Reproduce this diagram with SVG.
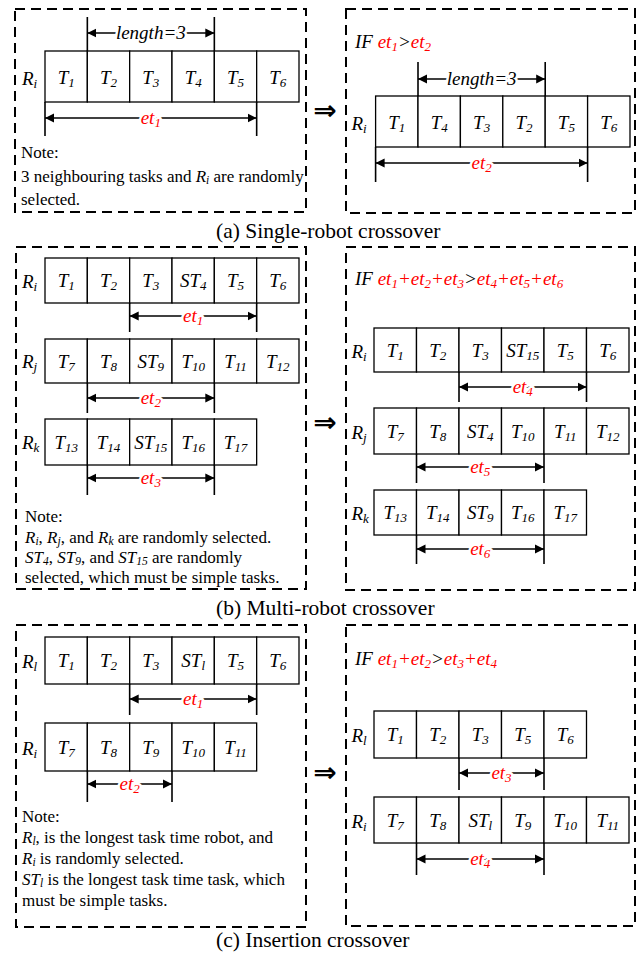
<svg xmlns="http://www.w3.org/2000/svg" width="642" height="954" viewBox="0 0 642 954">
<style>
.panel{fill:none;stroke:#000;stroke-width:2;stroke-dasharray:10 6}
.cell{fill:#fff;stroke:#000;stroke-width:1.3}
.t{font-family:'Liberation Serif','Times New Roman',Times,'DejaVu Serif',serif;font-style:italic;font-size:19px;text-anchor:middle;fill:#000}
.r{font-family:'Liberation Serif','Times New Roman',Times,'DejaVu Serif',serif;font-style:italic;font-size:19px;fill:#000}
.s{font-size:13px}
.tick{stroke:#000;stroke-width:1.6}
.dim{stroke:#000;stroke-width:1.5;marker-start:url(#ah);marker-end:url(#ah)}
.lab{font-family:'Liberation Serif','Times New Roman',Times,'DejaVu Serif',serif;font-style:italic;font-size:19px;text-anchor:middle;stroke:#fff;stroke-width:5;paint-order:stroke;stroke-linejoin:round}
.red{fill:#f00}
.blk{fill:#000}
.note{font-family:'Liberation Serif','Times New Roman',Times,'DejaVu Serif',serif;font-size:17px;fill:#000}
.i{font-style:italic}
.ns{font-size:11.5px}
.cap{font-family:'Liberation Serif','Times New Roman',Times,'DejaVu Serif',serif;font-size:21.5px;fill:#000}
.imp{font-family:'DejaVu Sans',sans-serif;font-weight:bold;font-size:28px;text-anchor:middle;fill:#000}
</style>
<defs>
<marker id="ah" viewBox="0 0 10 10" refX="10" refY="5" markerWidth="9" markerHeight="10" markerUnits="userSpaceOnUse" orient="auto-start-reverse">
<path d="M0,0 L10,5 L0,10 z" fill="#000"/>
</marker>
</defs>

<g id="panels">
<rect class="panel" x="15" y="9" width="291" height="203"/>
<rect class="panel" x="346" y="9" width="289" height="204"/>
<rect class="panel" x="16" y="247" width="290" height="342"/>
<rect class="panel" x="346" y="247" width="289" height="343"/>
<rect class="panel" x="16" y="625" width="290" height="302"/>
<rect class="panel" x="346" y="625" width="289" height="301"/>
</g>

<g id="a-left-Ri">
<text class="r" x="22" y="85" font-family="Liberation Serif">R<tspan class="s" dy="3">i</tspan></text>
<rect class="cell" x="45" y="51" width="42.33" height="51"/>
<rect class="cell" x="87.33" y="51" width="42.33" height="51"/>
<rect class="cell" x="129.67" y="51" width="42.33" height="51"/>
<rect class="cell" x="172" y="51" width="42.33" height="51"/>
<rect class="cell" x="214.33" y="51" width="42.33" height="51"/>
<rect class="cell" x="256.67" y="51" width="42.33" height="51"/>
<text class="t" x="66.2" y="83.5">T<tspan class="s" dy="3">1</tspan></text>
<text class="t" x="108.5" y="83.5">T<tspan class="s" dy="3">2</tspan></text>
<text class="t" x="150.8" y="83.5">T<tspan class="s" dy="3">3</tspan></text>
<text class="t" x="193.2" y="83.5">T<tspan class="s" dy="3">4</tspan></text>
<text class="t" x="235.5" y="83.5">T<tspan class="s" dy="3">5</tspan></text>
<text class="t" x="277.8" y="83.5">T<tspan class="s" dy="3">6</tspan></text>
</g>
<g id="a-left-note">
<text class="note" x="21" y="158">Note:</text>
<text class="note" x="21" y="181.5">3 neighbouring tasks and <tspan class="i">R</tspan><tspan class="i ns" dy="2">i</tspan><tspan dy="-2"> are randomly</tspan></text>
<text class="note" x="21" y="205">selected.</text>
</g>

<g id="a-right-if">
<text class="r" x="355" y="48">IF <tspan class="red">et</tspan><tspan class="red s" dy="3">1</tspan><tspan class="blk" dy="-3">&gt;</tspan><tspan class="red">et</tspan><tspan class="red s" dy="3">2</tspan></text>
</g>
<g id="a-right-Ri">
<text class="r" x="351.5" y="130">R<tspan class="s" dy="3">i</tspan></text>
<rect class="cell" x="375.6" y="96" width="42.4" height="51"/>
<rect class="cell" x="418" y="96" width="42.4" height="51"/>
<rect class="cell" x="460.4" y="96" width="42.4" height="51"/>
<rect class="cell" x="502.8" y="96" width="42.4" height="51"/>
<rect class="cell" x="545.2" y="96" width="42.4" height="51"/>
<rect class="cell" x="587.6" y="96" width="42.4" height="51"/>
<text class="t" x="396.8" y="128.5">T<tspan class="s" dy="3">1</tspan></text>
<text class="t" x="439.2" y="128.5">T<tspan class="s" dy="3">4</tspan></text>
<text class="t" x="481.6" y="128.5">T<tspan class="s" dy="3">3</tspan></text>
<text class="t" x="524" y="128.5">T<tspan class="s" dy="3">2</tspan></text>
<text class="t" x="566.4" y="128.5">T<tspan class="s" dy="3">5</tspan></text>
<text class="t" x="608.8" y="128.5">T<tspan class="s" dy="3">6</tspan></text>
</g>

<g id="b-left-Ri">
<text class="r" x="22" y="288">R<tspan class="s" dy="3">i</tspan></text>
<rect class="cell" x="45" y="258" width="42.33" height="45"/>
<rect class="cell" x="87.33" y="258" width="42.33" height="45"/>
<rect class="cell" x="129.67" y="258" width="42.33" height="45"/>
<rect class="cell" x="172" y="258" width="42.33" height="45"/>
<rect class="cell" x="214.33" y="258" width="42.33" height="45"/>
<rect class="cell" x="256.67" y="258" width="42.33" height="45"/>
<text class="t" x="66.2" y="287">T<tspan class="s" dy="3">1</tspan></text>
<text class="t" x="108.5" y="287">T<tspan class="s" dy="3">2</tspan></text>
<text class="t" x="150.8" y="287">T<tspan class="s" dy="3">3</tspan></text>
<text class="t" x="193.2" y="287">ST<tspan class="s" dy="3">4</tspan></text>
<text class="t" x="235.5" y="287">T<tspan class="s" dy="3">5</tspan></text>
<text class="t" x="277.8" y="287">T<tspan class="s" dy="3">6</tspan></text>
</g>
<g id="b-left-Rj">
<text class="r" x="22" y="368">R<tspan class="s" dy="3">j</tspan></text>
<rect class="cell" x="45" y="339" width="42.33" height="44"/>
<rect class="cell" x="87.33" y="339" width="42.33" height="44"/>
<rect class="cell" x="129.67" y="339" width="42.33" height="44"/>
<rect class="cell" x="172" y="339" width="42.33" height="44"/>
<rect class="cell" x="214.33" y="339" width="42.33" height="44"/>
<rect class="cell" x="256.67" y="339" width="42.33" height="44"/>
<text class="t" x="66.2" y="367.5">T<tspan class="s" dy="3">7</tspan></text>
<text class="t" x="108.5" y="367.5">T<tspan class="s" dy="3">8</tspan></text>
<text class="t" x="150.8" y="367.5">ST<tspan class="s" dy="3">9</tspan></text>
<text class="t" x="193.2" y="367.5">T<tspan class="s" dy="3">10</tspan></text>
<text class="t" x="235.5" y="367.5">T<tspan class="s" dy="3">11</tspan></text>
<text class="t" x="277.8" y="367.5">T<tspan class="s" dy="3">12</tspan></text>
</g>
<g id="b-left-Rk">
<text class="r" x="22" y="449">R<tspan class="s" dy="3">k</tspan></text>
<rect class="cell" x="45" y="419" width="42.33" height="46"/>
<rect class="cell" x="87.33" y="419" width="42.33" height="46"/>
<rect class="cell" x="129.67" y="419" width="42.33" height="46"/>
<rect class="cell" x="172" y="419" width="42.33" height="46"/>
<rect class="cell" x="214.33" y="419" width="42.33" height="46"/>
<text class="t" x="66.2" y="448.5">T<tspan class="s" dy="3">13</tspan></text>
<text class="t" x="108.5" y="448.5">T<tspan class="s" dy="3">14</tspan></text>
<text class="t" x="150.8" y="448.5">ST<tspan class="s" dy="3">15</tspan></text>
<text class="t" x="193.2" y="448.5">T<tspan class="s" dy="3">16</tspan></text>
<text class="t" x="235.5" y="448.5">T<tspan class="s" dy="3">17</tspan></text>
</g>
<g id="b-left-note">
<text class="note" x="25" y="522">Note:</text>
<text class="note" x="25" y="543"><tspan class="i">R</tspan><tspan class="i ns" dy="2">i</tspan><tspan dy="-2">, </tspan><tspan class="i">R</tspan><tspan class="i ns" dy="2">j</tspan><tspan dy="-2">, and </tspan><tspan class="i">R</tspan><tspan class="i ns" dy="2">k</tspan><tspan dy="-2"> are randomly selected.</tspan></text>
<text class="note" x="25" y="563"><tspan class="i">ST</tspan><tspan class="i ns" dy="2">4</tspan><tspan dy="-2">, </tspan><tspan class="i">ST</tspan><tspan class="i ns" dy="2">9</tspan><tspan dy="-2">, and </tspan><tspan class="i">ST</tspan><tspan class="i ns" dy="2">15</tspan><tspan dy="-2"> are randomly</tspan></text>
<text class="note" x="25" y="583">selected, which must be simple tasks.</text>
</g>

<g id="b-right-if">
<text class="r" x="355" y="285">IF <tspan class="red">et</tspan><tspan class="red s" dy="3">1</tspan><tspan class="red" dy="-3">+et</tspan><tspan class="red s" dy="3">2</tspan><tspan class="red" dy="-3">+et</tspan><tspan class="red s" dy="3">3</tspan><tspan class="blk" dy="-3">&gt;</tspan><tspan class="red">et</tspan><tspan class="red s" dy="3">4</tspan><tspan class="red" dy="-3">+et</tspan><tspan class="red s" dy="3">5</tspan><tspan class="red" dy="-3">+et</tspan><tspan class="red s" dy="3">6</tspan></text>
</g>
<g id="b-right-Ri">
<text class="r" x="351.5" y="358">R<tspan class="s" dy="3">i</tspan></text>
<rect class="cell" x="374" y="328" width="42.5" height="44"/>
<rect class="cell" x="416.5" y="328" width="42.5" height="44"/>
<rect class="cell" x="459" y="328" width="42.5" height="44"/>
<rect class="cell" x="501.5" y="328" width="42.5" height="44"/>
<rect class="cell" x="544" y="328" width="42.5" height="44"/>
<rect class="cell" x="586.5" y="328" width="42.5" height="44"/>
<text class="t" x="395.25" y="356.5">T<tspan class="s" dy="3">1</tspan></text>
<text class="t" x="437.75" y="356.5">T<tspan class="s" dy="3">2</tspan></text>
<text class="t" x="480.25" y="356.5">T<tspan class="s" dy="3">3</tspan></text>
<text class="t" x="522.75" y="356.5">ST<tspan class="s" dy="3">15</tspan></text>
<text class="t" x="565.25" y="356.5">T<tspan class="s" dy="3">5</tspan></text>
<text class="t" x="607.75" y="356.5">T<tspan class="s" dy="3">6</tspan></text>
</g>
<g id="b-right-Rj">
<text class="r" x="351.5" y="439">R<tspan class="s" dy="3">j</tspan></text>
<rect class="cell" x="374" y="408" width="42.5" height="46"/>
<rect class="cell" x="416.5" y="408" width="42.5" height="46"/>
<rect class="cell" x="459" y="408" width="42.5" height="46"/>
<rect class="cell" x="501.5" y="408" width="42.5" height="46"/>
<rect class="cell" x="544" y="408" width="42.5" height="46"/>
<rect class="cell" x="586.5" y="408" width="42.5" height="46"/>
<text class="t" x="395.25" y="437.5">T<tspan class="s" dy="3">7</tspan></text>
<text class="t" x="437.75" y="437.5">T<tspan class="s" dy="3">8</tspan></text>
<text class="t" x="480.25" y="437.5">ST<tspan class="s" dy="3">4</tspan></text>
<text class="t" x="522.75" y="437.5">T<tspan class="s" dy="3">10</tspan></text>
<text class="t" x="565.25" y="437.5">T<tspan class="s" dy="3">11</tspan></text>
<text class="t" x="607.75" y="437.5">T<tspan class="s" dy="3">12</tspan></text>
</g>
<g id="b-right-Rk">
<text class="r" x="351.5" y="520">R<tspan class="s" dy="3">k</tspan></text>
<rect class="cell" x="374" y="490" width="42.5" height="45"/>
<rect class="cell" x="416.5" y="490" width="42.5" height="45"/>
<rect class="cell" x="459" y="490" width="42.5" height="45"/>
<rect class="cell" x="501.5" y="490" width="42.5" height="45"/>
<rect class="cell" x="544" y="490" width="42.5" height="45"/>
<text class="t" x="395.25" y="519">T<tspan class="s" dy="3">13</tspan></text>
<text class="t" x="437.75" y="519">T<tspan class="s" dy="3">14</tspan></text>
<text class="t" x="480.25" y="519">ST<tspan class="s" dy="3">9</tspan></text>
<text class="t" x="522.75" y="519">T<tspan class="s" dy="3">16</tspan></text>
<text class="t" x="565.25" y="519">T<tspan class="s" dy="3">17</tspan></text>
</g>

<g id="c-left-Rl">
<text class="r" x="22" y="668">R<tspan class="s" dy="3">l</tspan></text>
<rect class="cell" x="45" y="637" width="42.33" height="47"/>
<rect class="cell" x="87.33" y="637" width="42.33" height="47"/>
<rect class="cell" x="129.67" y="637" width="42.33" height="47"/>
<rect class="cell" x="172" y="637" width="42.33" height="47"/>
<rect class="cell" x="214.33" y="637" width="42.33" height="47"/>
<rect class="cell" x="256.67" y="637" width="42.33" height="47"/>
<text class="t" x="66.2" y="667">T<tspan class="s" dy="3">1</tspan></text>
<text class="t" x="108.5" y="667">T<tspan class="s" dy="3">2</tspan></text>
<text class="t" x="150.8" y="667">T<tspan class="s" dy="3">3</tspan></text>
<text class="t" x="193.2" y="667">ST<tspan class="s" dy="3">l</tspan></text>
<text class="t" x="235.5" y="667">T<tspan class="s" dy="3">5</tspan></text>
<text class="t" x="277.8" y="667">T<tspan class="s" dy="3">6</tspan></text>
</g>
<g id="c-left-Ri">
<text class="r" x="22" y="754.5">R<tspan class="s" dy="3">i</tspan></text>
<rect class="cell" x="45" y="723" width="42.33" height="48"/>
<rect class="cell" x="87.33" y="723" width="42.33" height="48"/>
<rect class="cell" x="129.67" y="723" width="42.33" height="48"/>
<rect class="cell" x="172" y="723" width="42.33" height="48"/>
<rect class="cell" x="214.33" y="723" width="42.33" height="48"/>
<text class="t" x="66.2" y="753.5">T<tspan class="s" dy="3">7</tspan></text>
<text class="t" x="108.5" y="753.5">T<tspan class="s" dy="3">8</tspan></text>
<text class="t" x="150.8" y="753.5">T<tspan class="s" dy="3">9</tspan></text>
<text class="t" x="193.2" y="753.5">T<tspan class="s" dy="3">10</tspan></text>
<text class="t" x="235.5" y="753.5">T<tspan class="s" dy="3">11</tspan></text>
</g>
<g id="c-left-note">
<text class="note" x="22" y="822">Note:</text>
<text class="note" x="22" y="843"><tspan class="i">R</tspan><tspan class="i ns" dy="2">l</tspan><tspan dy="-2">, is the longest task time robot, and</tspan></text>
<text class="note" x="22" y="864"><tspan class="i">R</tspan><tspan class="i ns" dy="2">i</tspan><tspan dy="-2"> is randomly selected.</tspan></text>
<text class="note" x="22" y="885"><tspan class="i">ST</tspan><tspan class="i ns" dy="2">l</tspan><tspan dy="-2"> is the longest task time task, which</tspan></text>
<text class="note" x="22" y="906">must be simple tasks.</text>
</g>

<g id="c-right-if">
<text class="r" x="355" y="665">IF <tspan class="red">et</tspan><tspan class="red s" dy="3">1</tspan><tspan class="red" dy="-3">+et</tspan><tspan class="red s" dy="3">2</tspan><tspan class="blk" dy="-3">&gt;</tspan><tspan class="red">et</tspan><tspan class="red s" dy="3">3</tspan><tspan class="red" dy="-3">+et</tspan><tspan class="red s" dy="3">4</tspan></text>
</g>
<g id="c-right-Rl">
<text class="r" x="351.5" y="742">R<tspan class="s" dy="3">l</tspan></text>
<rect class="cell" x="374" y="711" width="42.5" height="47"/>
<rect class="cell" x="416.5" y="711" width="42.5" height="47"/>
<rect class="cell" x="459" y="711" width="42.5" height="47"/>
<rect class="cell" x="501.5" y="711" width="42.5" height="47"/>
<rect class="cell" x="544" y="711" width="42.5" height="47"/>
<text class="t" x="395.25" y="741">T<tspan class="s" dy="3">1</tspan></text>
<text class="t" x="437.75" y="741">T<tspan class="s" dy="3">2</tspan></text>
<text class="t" x="480.25" y="741">T<tspan class="s" dy="3">3</tspan></text>
<text class="t" x="522.75" y="741">T<tspan class="s" dy="3">5</tspan></text>
<text class="t" x="565.25" y="741">T<tspan class="s" dy="3">6</tspan></text>
</g>
<g id="c-right-Ri">
<text class="r" x="351.5" y="827.5">R<tspan class="s" dy="3">i</tspan></text>
<rect class="cell" x="374" y="797" width="42.5" height="46"/>
<rect class="cell" x="416.5" y="797" width="42.5" height="46"/>
<rect class="cell" x="459" y="797" width="42.5" height="46"/>
<rect class="cell" x="501.5" y="797" width="42.5" height="46"/>
<rect class="cell" x="544" y="797" width="42.5" height="46"/>
<rect class="cell" x="586.5" y="797" width="42.5" height="46"/>
<text class="t" x="395.25" y="826.5">T<tspan class="s" dy="3">7</tspan></text>
<text class="t" x="437.75" y="826.5">T<tspan class="s" dy="3">8</tspan></text>
<text class="t" x="480.25" y="826.5">ST<tspan class="s" dy="3">l</tspan></text>
<text class="t" x="522.75" y="826.5">T<tspan class="s" dy="3">9</tspan></text>
<text class="t" x="565.25" y="826.5">T<tspan class="s" dy="3">10</tspan></text>
<text class="t" x="607.75" y="826.5">T<tspan class="s" dy="3">11</tspan></text>
</g>

<g id="connectors">
<line class="tick" x1="87.33" y1="17" x2="87.33" y2="51"/>
<line class="tick" x1="214.33" y1="17" x2="214.33" y2="51"/>
<line class="dim" x1="87.33" y1="33" x2="214.33" y2="33"/>
<text class="lab blk" x="150.8" y="39">length=3</text>
<line class="tick" x1="45" y1="102" x2="45" y2="136"/>
<line class="tick" x1="256.67" y1="102" x2="256.67" y2="136"/>
<line class="dim" x1="45" y1="118" x2="256.67" y2="118"/>
<text class="lab red" x="150.8" y="124">et<tspan class="s" dy="3">1</tspan></text>
<line class="tick" x1="418" y1="62" x2="418" y2="96"/>
<line class="tick" x1="545.2" y1="62" x2="545.2" y2="96"/>
<line class="dim" x1="418" y1="79" x2="545.2" y2="79"/>
<text class="lab blk" x="481.6" y="85">length=3</text>
<line class="tick" x1="375.6" y1="147" x2="375.6" y2="182"/>
<line class="tick" x1="587.6" y1="147" x2="587.6" y2="182"/>
<line class="dim" x1="375.6" y1="163" x2="587.6" y2="163"/>
<text class="lab red" x="481.6" y="169">et<tspan class="s" dy="3">2</tspan></text>

<line class="tick" x1="129.67" y1="303" x2="129.67" y2="332"/>
<line class="tick" x1="256.67" y1="303" x2="256.67" y2="332"/>
<line class="dim" x1="129.67" y1="316" x2="256.67" y2="316"/>
<text class="lab red" x="193.2" y="322">et<tspan class="s" dy="3">1</tspan></text>
<line class="tick" x1="87.33" y1="383" x2="87.33" y2="413"/>
<line class="tick" x1="214.33" y1="383" x2="214.33" y2="413"/>
<line class="dim" x1="87.33" y1="398" x2="214.33" y2="398"/>
<text class="lab red" x="150.8" y="404">et<tspan class="s" dy="3">2</tspan></text>
<line class="tick" x1="87.33" y1="465" x2="87.33" y2="495"/>
<line class="tick" x1="214.33" y1="465" x2="214.33" y2="495"/>
<line class="dim" x1="87.33" y1="478" x2="214.33" y2="478"/>
<text class="lab red" x="150.8" y="484">et<tspan class="s" dy="3">3</tspan></text>

<line class="tick" x1="459" y1="372" x2="459" y2="402"/>
<line class="tick" x1="586.5" y1="372" x2="586.5" y2="402"/>
<line class="dim" x1="459" y1="387" x2="586.5" y2="387"/>
<text class="lab red" x="522.75" y="393">et<tspan class="s" dy="3">4</tspan></text>
<line class="tick" x1="416.5" y1="454" x2="416.5" y2="483"/>
<line class="tick" x1="544" y1="454" x2="544" y2="483"/>
<line class="dim" x1="416.5" y1="467" x2="544" y2="467"/>
<text class="lab red" x="480.25" y="473">et<tspan class="s" dy="3">5</tspan></text>
<line class="tick" x1="416.5" y1="535" x2="416.5" y2="564"/>
<line class="tick" x1="544" y1="535" x2="544" y2="564"/>
<line class="dim" x1="416.5" y1="549" x2="544" y2="549"/>
<text class="lab red" x="480.25" y="555">et<tspan class="s" dy="3">6</tspan></text>

<line class="tick" x1="129.67" y1="684" x2="129.67" y2="715"/>
<line class="tick" x1="256.67" y1="684" x2="256.67" y2="715"/>
<line class="dim" x1="129.67" y1="699" x2="256.67" y2="699"/>
<text class="lab red" x="193.2" y="705">et<tspan class="s" dy="3">1</tspan></text>
<line class="tick" x1="87.33" y1="771" x2="87.33" y2="802"/>
<line class="tick" x1="172" y1="771" x2="172" y2="802"/>
<line class="dim" x1="87.33" y1="784" x2="172" y2="784"/>
<text class="lab red" x="129.67" y="790">et<tspan class="s" dy="3">2</tspan></text>

<line class="tick" x1="459" y1="758" x2="459" y2="790"/>
<line class="tick" x1="544" y1="758" x2="544" y2="790"/>
<line class="dim" x1="459" y1="773" x2="544" y2="773"/>
<text class="lab red" x="501.5" y="779">et<tspan class="s" dy="3">3</tspan></text>
<line class="tick" x1="416.5" y1="843" x2="416.5" y2="875"/>
<line class="tick" x1="544" y1="843" x2="544" y2="875"/>
<line class="dim" x1="416.5" y1="859" x2="544" y2="859"/>
<text class="lab red" x="480.25" y="865">et<tspan class="s" dy="3">4</tspan></text>

<text class="imp" x="325" y="120">⇒</text>
<text class="imp" x="325" y="432">⇒</text>
<text class="imp" x="325" y="782">⇒</text>
</g>

<g id="captions">
<text class="cap" x="216" y="238">(a) Single-robot crossover</text>
<text class="cap" x="216" y="615">(b) Multi-robot crossover</text>
<text class="cap" x="216" y="947">(c) Insertion crossover</text>
</g>
</svg>
